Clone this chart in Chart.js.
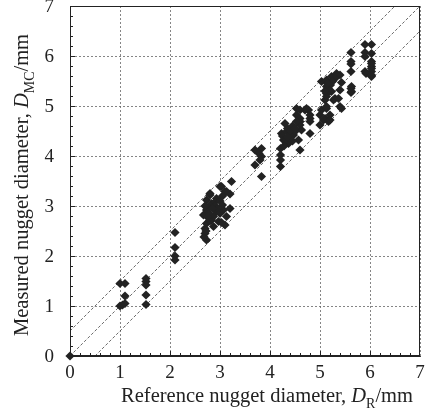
<!DOCTYPE html>
<html lang="en">
<head>
<meta charset="UTF-8">
<title>Measured vs reference nugget diameter</title>
<script src="https://cdn.jsdelivr.net/npm/chart.js"></script>
<style>
  html, body { margin: 0; padding: 0; background: #fff; }
  #wrap { width: 430px; height: 408px; }
</style>
</head>
<body>
<div id="wrap"><canvas id="chart" width="430" height="408"></canvas></div>
<script>
// reference nugget diameter D_R (mm) and measured D_MC (mm), point by point
const refDiameter = [
  0,
  1.0, 1.1, 1.0, 1.05, 1.1, 1.1,
  1.52, 1.52, 1.52, 1.52, 1.52,
  2.1, 2.1, 2.1, 2.1,
  3.23, 3.03, 3.13, 3.2, 3.0, 3.1, 2.8, 2.8, 2.73, 2.93, 2.83, 2.9, 3.0, 3.05,
  3.2, 3.07, 2.93, 2.73, 2.67, 2.87, 3.13, 3.1, 2.97, 2.73, 2.7, 2.7, 2.73,
  2.83, 2.87, 3.03, 2.77, 2.9, 2.95, 2.78, 2.8, 2.75, 3.0, 2.85, 2.7, 3.05, 2.68, 2.72,
  3.7, 3.83, 3.83, 3.8, 3.7, 3.83, 3.78,
  4.21, 4.21, 4.21, 4.21, 4.3, 4.35, 4.23, 4.33, 4.4, 4.27, 4.37, 4.47, 4.5, 4.57,
  4.6, 4.25, 4.3, 4.4, 4.45, 4.35, 4.28, 4.45,
  4.53, 4.6, 4.7, 4.77, 4.53, 4.6, 4.8, 4.6, 4.8, 4.63, 4.8, 4.73, 4.8, 4.6, 4.53, 4.5,
  5.0, 5.1, 5.2, 5.0, 5.17, 5.03, 5.13, 5.07, 5.2, 5.43, 5.4, 5.13, 5.1, 5.13, 5.16,
  5.3, 5.03, 5.13, 5.23, 5.33, 5.43, 5.13, 5.23, 5.13, 5.27, 5.37, 5.4, 5.35, 5.3,
  5.25, 5.21, 5.4, 5.15, 5.2, 5.1,
  5.62, 5.62, 5.62, 5.62, 5.62, 5.62, 5.63, 5.63,
  5.9, 6.03, 5.9, 5.9, 5.9, 6.03, 6.03, 6.03, 6.03, 6.03, 5.92, 6.03, 6.03, 6.03
];
const measDiameter = [
  0,
  1.45, 1.45, 1.0, 1.02, 1.05, 1.2,
  1.55, 1.49, 1.42, 1.22, 1.03,
  2.47, 2.17, 2.0, 1.92,
  3.49, 3.39, 3.29, 3.24, 3.39, 3.29, 3.25, 3.22, 3.12, 3.15, 3.05, 3.08, 3.1, 3.2,
  2.95, 2.92, 2.89, 2.92, 2.82, 2.79, 2.79, 2.62, 2.69, 2.65, 2.55, 2.45, 2.32,
  2.72, 2.59, 2.67, 2.98, 3.0, 2.95, 2.85, 2.7, 2.78, 2.85, 2.95, 3.0, 3.02, 2.38, 2.5,
  4.12, 4.15, 3.99, 3.92, 3.82, 3.59, 4.05,
  4.15, 4.02, 3.92, 3.79, 4.65, 4.55, 4.45, 4.49, 4.39, 4.32, 4.25, 4.42, 4.49, 4.32,
  4.12, 4.4, 4.3, 4.5, 4.6, 4.38, 4.2, 4.3,
  4.95, 4.92, 4.92, 4.92, 4.82, 4.75, 4.75, 4.62, 4.69, 4.52, 4.45, 4.95, 4.82, 4.69, 4.69, 4.55,
  4.82, 4.75, 4.82, 4.62, 4.69, 4.92, 4.95, 4.72, 4.72, 4.95, 4.99, 4.99, 5.12, 5.25, 5.35,
  5.15, 5.49, 5.52, 5.59, 5.65, 5.47, 5.39, 5.29, 5.19, 5.12, 5.15, 5.62, 5.62, 5.55,
  5.49, 5.42, 5.32, 5.45, 5.3, 5.3,
  6.07, 5.89, 5.84, 5.69, 5.35, 5.27, 5.39, 5.29,
  6.23, 6.23, 6.07, 5.99, 5.69, 6.05, 5.89, 5.79, 5.69, 5.59, 5.65, 5.75, 5.85, 5.62
];
const tickValues = [0, 1, 2, 3, 4, 5, 6, 7];
const bandOffsets = [0.5, 0, -0.5];   // guide lines D_MC = D_R + offset
const xTitle = [
  { text: 'Reference nugget diameter, ' },
  { text: 'D', italic: true },
  { text: 'R', sub: true },
  { text: '/mm' }
];
const yTitle = [
  { text: 'Measured nugget diameter, ' },
  { text: 'D', italic: true },
  { text: 'MC', sub: true },
  { text: '/mm' }
];

const FONT = '"Liberation Serif", "DejaVu Serif", serif';
const INK = '#222';
const axisMin = tickValues[0];
const axisMax = tickValues[tickValues.length - 1];

const points = refDiameter.map((x, i) => ({ x: x, y: measDiameter[i] }));

// each guide line clipped to the square axis range
const guideSets = bandOffsets.map(off => {
  const x0 = Math.max(axisMin, axisMin - off);
  const x1 = Math.min(axisMax, axisMax - off);
  return {
    type: 'line',
    data: [{ x: x0, y: x0 + off }, { x: x1, y: x1 + off }],
    borderColor: '#444',
    borderWidth: 0.8,
    borderDash: [3, 2],
    pointRadius: 0,
    fill: false
  };
});

function richWidth(ctx, parts, size) {
  let w = 0;
  parts.forEach(p => {
    const s = p.sub ? size * 0.68 : size;
    ctx.font = (p.italic ? 'italic ' : '') + s + 'px ' + FONT;
    w += ctx.measureText(p.text).width;
  });
  return w;
}

function drawRich(ctx, parts, size, x, y) {
  let cx = x;
  parts.forEach(p => {
    const s = p.sub ? size * 0.68 : size;
    ctx.font = (p.italic ? 'italic ' : '') + s + 'px ' + FONT;
    ctx.fillText(p.text, cx, p.sub ? y + size * 0.28 : y);
    cx += ctx.measureText(p.text).width;
  });
}

const extras = {
  id: 'extras',
  afterDraw(chart) {
    const { ctx, chartArea: a, scales } = chart;
    const xs = scales.x, ys = scales.y;
    ctx.save();
    ctx.strokeStyle = INK;
    ctx.lineWidth = 1;
    ctx.setLineDash([]);
    ctx.strokeRect(a.left + 0.5, a.top + 0.5, a.right - a.left - 1, a.bottom - a.top - 1);

    // minor ticks, inward, every 0.2 mm
    ctx.beginPath();
    for (let i = 1; i < (axisMax - axisMin) * 5; i++) {
      const v = axisMin + i * 0.2;
      const len = i % 5 === 0 ? 5 : 3;
      const px = Math.round(xs.getPixelForValue(v)) + 0.5;
      ctx.moveTo(px, a.bottom);
      ctx.lineTo(px, a.bottom - len);
      const py = Math.round(ys.getPixelForValue(v)) + 0.5;
      ctx.moveTo(a.left, py);
      ctx.lineTo(a.left + len, py);
    }
    ctx.stroke();

    // axis titles
    ctx.fillStyle = INK;
    ctx.textBaseline = 'alphabetic';
    const size = 20.5;
    const wx = richWidth(ctx, xTitle, size);
    drawRich(ctx, xTitle, size, 267 - wx / 2, 402);

    const wy = richWidth(ctx, yTitle, size);
    ctx.translate(28, (a.top + a.bottom) / 2 + 4);
    ctx.rotate(-Math.PI / 2);
    drawRich(ctx, yTitle, size, -wy / 2, 0);
    ctx.restore();
  }
};

function fixWidth(w) {
  return s => { s.width = w; s.paddingTop = 0; s.paddingBottom = 0; };
}
function fixHeight(h) {
  return s => { s.height = h; s.paddingLeft = 0; s.paddingRight = 0; };
}

function axis(tickPadding, fit, labelOffset) {
  return {
    type: 'linear',
    min: axisMin,
    max: axisMax,
    grid: { color: '#666', lineWidth: 0.8, drawTicks: false },
    border: { display: true, color: INK, width: 1, dash: [2, 2] },
    ticks: {
      stepSize: 1,
      color: INK,
      padding: tickPadding,
      maxRotation: 0,
      labelOffset: labelOffset,
      font: { family: FONT, size: 19 }
    },
    afterFit: fit
  };
}

new Chart(document.getElementById('chart'), {
  type: 'scatter',
  data: {
    datasets: [
      {
        data: points,
        pointStyle: 'rectRot',
        pointRadius: 4.6,
        pointBackgroundColor: INK,
        pointBorderColor: INK,
        pointBorderWidth: 0,
        clip: false
      }
    ].concat(guideSets)
  },
  options: {
    responsive: false,
    animation: false,
    devicePixelRatio: 1,
    layout: { padding: { top: 6, right: 10, left: 0, bottom: 0 } },
    plugins: {
      legend: { display: false },
      tooltip: { enabled: false }
    },
    scales: {
      x: axis(6, fixHeight(52), 0),
      y: axis(16, fixWidth(70), 1)
    }
  },
  plugins: [extras]
});
</script>
</body>
</html>
